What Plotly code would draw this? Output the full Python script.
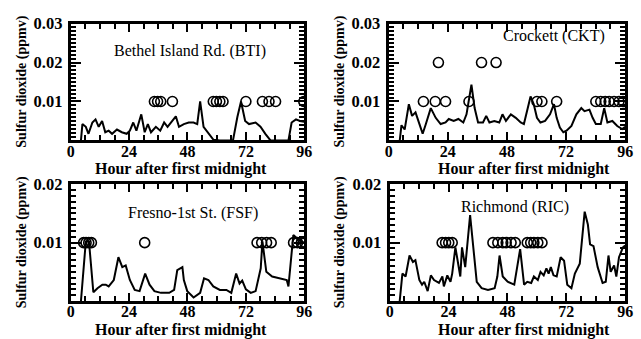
import plotly.graph_objects as go

# ---------------- data ----------------
bti_hours = [4.2, 4.8, 6.2, 7.3, 8.9, 10.2, 11.5, 12.9, 14.2, 15.6, 17, 19, 21, 23, 24.3, 25.7, 27, 29,
             30.4, 31.7, 33, 35, 36.8, 38.4, 39.8, 41.2, 43.2, 44.5, 46.5, 48.5, 50.5, 52, 53.2, 54.6,
             56.6, 58.6, 61.3, 66.7, 68.5, 70, 71.7, 73.3, 76, 78, 80, 82.1, 89.5, 90.8, 92.6, 94.2, 96]
bti_so2 = [0, 0.0042, 0.0035, 0.0017, 0.0046, 0.0054, 0.0035, 0.0050, 0.0021, 0.0025, 0.0017, 0.0028,
           0.0021, 0.0017, 0.0025, 0.0046, 0.0025, 0.0067, 0.0021, 0.0042, 0.0021, 0.0035, 0.0025, 0.0046,
           0.0035, 0.0046, 0.0062, 0.0035, 0.0042, 0.0046, 0.0046, 0.0042, 0.0100, 0.0035, 0.0017, 0.0002,
           0, 0, 0.006, 0.0100, 0.0050, 0.0042, 0.0046, 0.0035, 0.0017, 0, 0, 0.0046, 0.0054, 0.0050, 0.0048]
bti_circle_hours = [34.4, 35.7, 37.0, 41.8, 58.6, 59.9, 61.3, 62.6, 72, 78.8, 81.5, 84.2, 95.8]
bti_circle_so2 = [0.01] * 13

ckt_hours = [4.5, 5.2, 6.5, 8.2, 9.5, 10.9, 12.5, 13.8, 15.1, 17.1, 19.1, 21.1, 23.1, 24.4, 26.4, 28.3,
             30.3, 31.6, 33.6, 34.9, 36.3, 38.3, 39.6, 40.9, 42.9, 44.9, 46.2, 47.6, 49.6, 51.6, 53.6,
             54.9, 57.6, 58.9, 60.2, 61.6, 63.5, 65.5, 67.1, 68.2, 69.5, 70.9, 72.2, 74.2, 76.2, 78.2,
             79.5, 81.5, 82.8, 84.1, 86.1, 87.5, 88.8, 90.8, 92.8, 94.8, 96]
ckt_so2 = [0, 0.0039, 0.0028, 0.0093, 0.0063, 0.0072, 0.0042, 0.0017, 0.0042, 0.0083, 0.0058, 0.0042,
           0.0046, 0.0055, 0.005, 0.0055, 0.0046, 0.0067, 0.0143, 0.0083, 0.0046, 0.0046, 0.0063, 0.0046,
           0.005, 0.0046, 0.0067, 0.005, 0.0067, 0.0058, 0.0046, 0.0042, 0.0113, 0.0093, 0.0058, 0.0046,
           0.005, 0.0067, 0.0093, 0.0058, 0.0033, 0.0021, 0.0025, 0.0037, 0.0067, 0.0083, 0.0075, 0.0079,
           0.0058, 0.0042, 0.0042, 0.0083, 0.0046, 0.005, 0.0037, 0.0029, 0.0035]
ckt_circle_hours = [14.1, 18.9, 23.1, 32.6, 60.2, 62.2, 68.2, 84.1, 86.1, 87.9, 89.5, 91.5, 93.5, 95.1,
                    20.2, 37.7, 43.6]
ckt_circle_so2 = [0.01] * 14 + [0.02] * 3

fsf_hours = [4.2, 6.2, 7.5, 9.3, 11, 13, 14.4, 15.6, 17.7, 19.6, 21.2, 22.6, 24.3, 26.3, 28.3, 30.6, 32.4,
             34.4, 37.1, 40.5, 42.5, 43.8, 45.9, 46.5, 47.9, 50.5, 53.2, 54.8, 56.6, 58.6, 61.3, 64, 66,
             68, 69.4, 70.5, 72, 74, 76, 78.1, 78.8, 80.4, 82.8, 88.8, 89.5, 91.5, 92.9, 94.8, 96]
fsf_so2 = [0, 0.0102, 0.0102, 0.0015, 0.0022, 0.0028, 0.0028, 0.0025, 0.0036, 0.0075, 0.0058, 0.0061,
           0.0036, 0.0019, 0.0017, 0.0047, 0.0028, 0.0017, 0.0014, 0.0014, 0.0019, 0.0053, 0.0058, 0.0036,
           0.0017, 0.0006, 0.0014, 0.0039, 0.0036, 0.0025, 0.0019, 0.0019, 0.0014, 0.0047, 0.003, 0.0035,
           0.002, 0.0014, 0.0017, 0.0056, 0.0102, 0.005, 0.0042, 0.0036, 0.0025, 0.0113, 0.0108, 0.0102, 0.01]
fsf_circle_hours = [5.3, 6.3, 7.4, 8.5, 30.4, 76.6, 78.5, 80.5, 82.4, 91.6, 93.2, 94.8, 96.2]
fsf_circle_so2 = [0.01] * 13

ric_hours = [4.1, 5.2, 6.5, 8.1, 9.5, 10.5, 12.1, 13.2, 14.1, 15.5, 16.8, 18.1, 20.1, 21.5, 22.1, 23.5,
             24.8, 25.5, 26.8, 27.9, 28.8, 29.5, 30.8, 32.8, 34.1, 35.5, 37.5, 40.1, 42.8, 43.9, 44.8,
             46.1, 48.1, 50.8, 53.2, 54.8, 56.1, 57.7, 58.8, 60.4, 61.5, 62.8, 63.9, 64.8, 65.7, 66.8,
             68.1, 69.7, 71.1, 72.4, 74.1, 75.5, 77.5, 79.5, 80.8, 81.7, 83.1, 84.8, 86.8, 88.1, 89.2,
             90.1, 91.5, 92.4, 93.5, 95.1, 96]
ric_so2 = [0, 0.0047, 0.0042, 0.0078, 0.0067, 0.007, 0.0036, 0.0028, 0.0033, 0.0017, 0.0044, 0.0036,
           0.0031, 0.0042, 0.0025, 0.0044, 0.0033, 0.0047, 0.0092, 0.0064, 0.0042, 0.0092, 0.0058, 0.0147,
           0.0092, 0.0033, 0.0022, 0.0019, 0.0022, 0.0042, 0.0078, 0.0042, 0.0033, 0.0028, 0.0089, 0.0028,
           0.0033, 0.0031, 0.0042, 0.0036, 0.005, 0.0044, 0.0056, 0.0047, 0.0058, 0.0044, 0.0042, 0.0075,
           0.0069, 0.0028, 0.0022, 0.0047, 0.0064, 0.0153, 0.0131, 0.0097, 0.0094, 0.0058, 0.0031, 0.0033,
           0.0078, 0.005, 0.0061, 0.0042, 0.0075, 0.0092, 0.0095]
ric_circle_hours = [21.4, 22.8, 24.1, 25.5, 42.1, 44.1, 46.1, 47.5, 49.5, 51.2, 56.1, 57.5, 58.8, 60.4, 62.1]
ric_circle_so2 = [0.01] * 15

x_major_step = 24
x_minor_step = 6
y_major_step = 0.01
y_minor_step = 0.001

station_names = ["Bethel Island Rd. (BTI)", "Crockett (CKT)", "Fresno-1st St. (FSF)", "Richmond (RIC)"]
x_title = "Hour after first midnight"
y_title = "Sulfur dioxide (ppmv)"

# ---------------- figure ----------------
W, H = 641, 339
FONT = "Liberation Serif"

panels = [
    dict(h=bti_hours, v=bti_so2, ch=bti_circle_hours, cv=bti_circle_so2, ymax=0.03,
         px=(68, 306), py=(15, 135), label=(190, 43), ytitle_x=18, xtitle=(180, 164.5)),
    dict(h=ckt_hours, v=ckt_so2, ch=ckt_circle_hours, cv=ckt_circle_so2, ymax=0.03,
         px=(392, 633), py=(15, 135), label=(561, 28), ytitle_x=342, xtitle=(530, 164.5)),
    dict(h=fsf_hours, v=fsf_so2, ch=fsf_circle_hours, cv=fsf_circle_so2, ymax=0.02,
         px=(68, 306), py=(180, 300), label=(193, 210), ytitle_x=18, xtitle=(180, 329.5)),
    dict(h=ric_hours, v=ric_so2, ch=ric_circle_hours, cv=ric_circle_so2, ymax=0.02,
         px=(393, 633), py=(180, 300), label=(521, 203), ytitle_x=342, xtitle=(530, 329.5)),
]

fig = go.Figure()
annotations = []
for i, p in enumerate(panels):
    n = "" if i == 0 else str(i + 1)
    xa, ya = "x" + n, "y" + n
    fig.add_trace(go.Scatter(x=p["h"], y=p["v"], mode="lines", xaxis=xa, yaxis=ya,
                             line=dict(color="black", width=2), showlegend=False))
    fig.add_trace(go.Scatter(x=p["ch"], y=p["cv"], mode="markers", xaxis=xa, yaxis=ya,
                             marker=dict(symbol="circle-open", size=10, color="black",
                                         line=dict(width=1.6, color="black")),
                             showlegend=False))
    xdom = [p["px"][0] / W, p["px"][1] / W]
    ydom = [1 - p["py"][1] / H, 1 - p["py"][0] / H]
    fig.update_layout(**{
        "xaxis" + n: dict(domain=xdom, anchor=ya, range=[0, 96], tickmode="linear", tick0=0,
                          dtick=x_major_step, ticks="inside", ticklen=8, tickwidth=2,
                          ticklabelstandoff=-6,
                          tickcolor="black", showline=True, linecolor="black", linewidth=3,
                          mirror="ticks", showgrid=False, zeroline=False,
                          tickfont=dict(family=FONT, size=16, color="black", weight="bold"),
                          minor=dict(tickmode="linear", tick0=0, dtick=x_minor_step, ticks="inside",
                                     ticklen=5, tickwidth=1.5, tickcolor="black", showgrid=False)),
        "yaxis" + n: dict(domain=ydom, anchor=xa, range=[0, p["ymax"]], tickmode="linear", tick0=0,
                          dtick=y_major_step, tickformat=".2f", labelalias={"0.00": ""},
                          ticks="inside", ticklen=10, tickwidth=2, ticklabelstandoff=2,
                          tickcolor="black", showline=True, linecolor="black", linewidth=3,
                          mirror="ticks", showgrid=False, zeroline=False,
                          tickfont=dict(family=FONT, size=16.5, color="black", weight="bold"),
                          minor=dict(tickmode="linear", tick0=0, dtick=y_minor_step, ticks="inside",
                                     ticklen=5, tickwidth=1.5, tickcolor="black", showgrid=False)),
    })
    annotations.append(dict(text=station_names[i], xref="paper", yref="paper",
                            x=p["label"][0] / W, y=1 - p["label"][1] / H, showarrow=False,
                            xanchor="center", yanchor="middle",
                            font=dict(family=FONT, size=16, color="black")))
    annotations.append(dict(text=x_title, xref="paper", yref="paper",
                            x=p["xtitle"][0] / W, y=1 - p["xtitle"][1] / H, showarrow=False,
                            xanchor="center", yanchor="middle",
                            font=dict(family=FONT, size=16, color="black", weight="bold")))
    annotations.append(dict(text=y_title, xref="paper", yref="paper", textangle=-90,
                            x=p["ytitle_x"] / W, y=1 - (p["py"][0] + p["py"][1]) / 2 / H,
                            showarrow=False, xanchor="center", yanchor="middle",
                            font=dict(family=FONT, size=14, color="black", weight="bold")))

fig.update_layout(width=W, height=H, margin=dict(l=0, r=0, t=0, b=0),
                  paper_bgcolor="white", plot_bgcolor="white", annotations=annotations)
fig.write_html("out.html", config={"displayModeBar": False},
               post_script="document.body.style.margin='0';")
